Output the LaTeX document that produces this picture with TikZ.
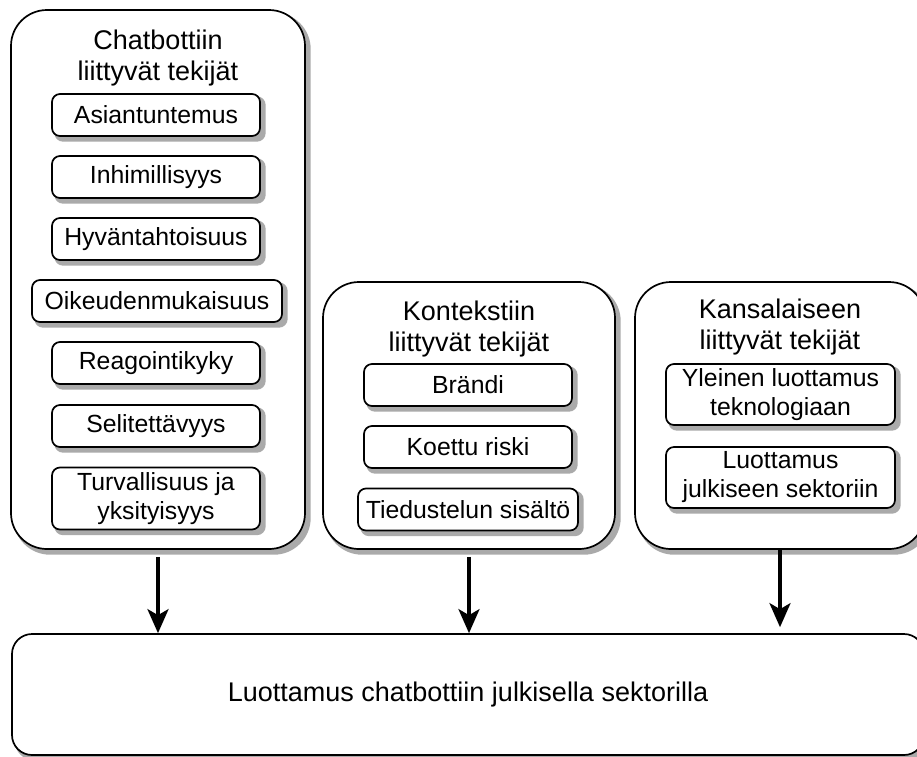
\documentclass[tikz,border=0pt]{standalone}
\usepackage{fontspec}
\setmainfont{Liberation Sans}
\usetikzlibrary{arrows.meta}
\pgfdeclarelayer{gshadow}
\pgfdeclarelayer{gbox}
\pgfdeclarelayer{ishadow}
\pgfsetlayers{gshadow,gbox,ishadow,main}
\definecolor{shadowgray}{RGB}{170,170,170}
\begin{document}
\begin{tikzpicture}[x=1pt,y=-1pt,
  groupbox/.style={draw,line width=1.7pt,rounded corners=36pt,fill=white,inner sep=0pt},
  itembox/.style={draw,line width=1.7pt,rounded corners=8pt,fill=white,inner sep=0pt,minimum height=42pt,align=center,font=\fontsize{24.8}{29}\selectfont},
  grouptitle/.style={align=center,inner sep=0pt,font=\fontsize{27}{31}\selectfont},
  shadowfill/.style={fill=shadowgray,draw=shadowgray,line width=1.7pt},
  arr/.style={line width=3.5pt,-{Stealth[length=24pt,width=21pt,inset=6pt]}}]
\useasboundingbox (0,0) rectangle (917,756);

% group containers
\begin{pgfonlayer}{gbox}
\node[groupbox,minimum width=294pt,minimum height=539pt] (G1) at (158,279.5) {};
\node[groupbox,minimum width=292pt,minimum height=267pt] (G2) at (469,415.5) {};
\node[groupbox,minimum width=290pt,minimum height=267pt] (G3) at (780,415.5) {};
\node[groupbox,rounded corners=20pt,minimum width=912pt,minimum height=121pt,font=\fontsize{27}{31}\selectfont] (B) at (468,694.5) {Luottamus chatbottiin julkisella sektorilla};
\end{pgfonlayer}

% titles
\node[grouptitle] (T1) at (158,58) {Chatbottiin\\liittyvät tekijät};
\node[grouptitle] (T2) at (469,329) {Kontekstiin\\liittyvät tekijät};
\node[grouptitle] (T3) at (780,327) {Kansalaiseen\\liittyvät tekijät};

% left items
\node[itembox,minimum width=208pt] (A1) at (156,115) {Asiantuntemus};
\node[itembox,minimum width=208pt] (A2) at (156,177) {Inhimillisyys};
\node[itembox,minimum width=208pt] (A3) at (156,239) {Hyväntahtoisuus};
\node[itembox,minimum width=250pt] (A4) at (157,301) {Oikeudenmukaisuus};
\node[itembox,minimum width=208pt] (A5) at (156,363) {Reagointikyky};
\node[itembox,minimum width=208pt] (A6) at (156,426) {Selitettävyys};
\node[itembox,minimum width=208pt,minimum height=62pt] (A7) at (156,498.5) {Turvallisuus ja\\yksityisyys};

% middle items
\node[itembox,minimum width=208pt] (K1) at (468,385) {Brändi};
\node[itembox,minimum width=208pt] (K2) at (468,447) {Koettu riski};
\node[itembox,minimum width=220pt] (K3) at (468,509.5) {Tiedustelun sisältö};

% right items
\node[itembox,minimum width=229pt,minimum height=61pt] (C1) at (780.5,394.5) {Yleinen luottamus\\teknologiaan};
\node[itembox,minimum width=229pt,minimum height=61pt] (C2) at (780.5,477.5) {Luottamus\\julkiseen sektoriin};

% shadows
\begin{pgfonlayer}{gshadow}
\foreach \n in {G1,G2,G3}
  \filldraw[shadowfill,rounded corners=36pt] ([shift={(4,4)}]\n.north west) rectangle ([shift={(4,4)}]\n.south east);
\filldraw[shadowfill,rounded corners=20pt] ([shift={(4,4)}]B.north west) rectangle ([shift={(4,4)}]B.south east);
\end{pgfonlayer}
\begin{pgfonlayer}{ishadow}
\foreach \n in {A1,A2,A3,A4,A5,A6,A7,K1,K2,K3,C1,C2}
  \filldraw[shadowfill,rounded corners=8pt] ([shift={(4,4)}]\n.north west) rectangle ([shift={(4,4)}]\n.south east);
\end{pgfonlayer}

% arrows
\draw[arr,shorten <=7pt] (G1.south) -- (G1.south |- B.north);
\draw[arr,shorten <=7pt] (G2.south) -- (G2.south |- B.north);
\draw[arr,shorten >=6pt] (G3.south) -- (G3.south |- B.north);
\end{tikzpicture}
\end{document}
